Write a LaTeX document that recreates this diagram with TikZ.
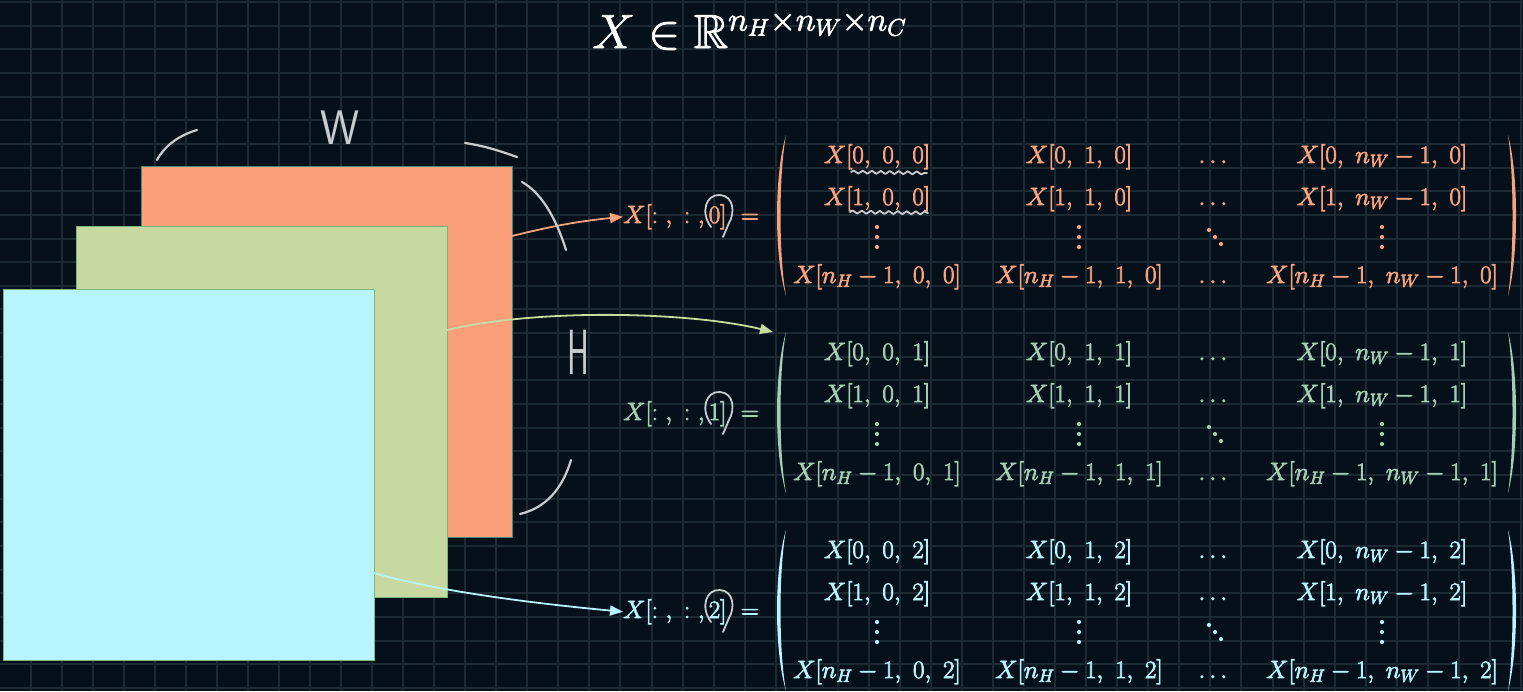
\RequirePackage{fix-cm}
\documentclass[tikz,border=0pt]{standalone}
\usepackage{amsmath,amssymb}
\usepackage{fontspec}
\usetikzlibrary{arrows.meta,decorations.pathmorphing}
\definecolor{bgc}{HTML}{06101A}
\definecolor{gridc}{HTML}{1C2A33}
\definecolor{orfill}{HTML}{FA9F7A}
\definecolor{ortext}{HTML}{F7A27D}
\definecolor{orborder}{HTML}{3D8F6F}
\definecolor{grfill}{HTML}{C8D8A1}
\definecolor{grtext}{HTML}{A5CDB3}
\definecolor{grarrow}{HTML}{C8DCA0}
\definecolor{grborder}{HTML}{7DB47A}
\definecolor{cyfill}{HTML}{B8F4FD}
\definecolor{chalk}{HTML}{C8CCD0}
\newcommand{\thk}{\special{pdf:literal direct 2 Tr 0.7 w}}
\newcommand{\placematrix}[3]{%
  \node[ent] (#3-1-1) at (877,{163+#2}) {$X[0,\ 0,\ #1]$};
  \node[ent] (#3-1-2) at (1079,{163+#2}) {$X[0,\ 1,\ #1]$};
  \node[ent] (#3-1-3) at (1215,{163+#2}) {$\dots$};
  \node[ent] (#3-1-4) at (1382,{163+#2}) {$X[0,\ n_W-1,\ #1]$};
  \node[ent] (#3-2-1) at (877,{205+#2}) {$X[1,\ 0,\ #1]$};
  \node[ent] (#3-2-2) at (1079,{205+#2}) {$X[1,\ 1,\ #1]$};
  \node[ent] (#3-2-3) at (1215,{205+#2}) {$\dots$};
  \node[ent] (#3-2-4) at (1382,{205+#2}) {$X[1,\ n_W-1,\ #1]$};
  \foreach \cx in {877,1079,1382}
    \foreach \cy in {227,237,247}
      \fill (\cx,{\cy+#2}) circle (2.1pt);
  \foreach \cx/\cy in {1209/230,1215/237,1221/244}
    \fill (\cx,{\cy+#2}) circle (2.1pt);
  \node[ent] (#3-4-1) at (877,{283+#2}) {$X[n_H-1,\ 0,\ #1]$};
  \node[ent] (#3-4-2) at (1079,{283+#2}) {$X[n_H-1,\ 1,\ #1]$};
  \node[ent] (#3-4-3) at (1215,{283+#2}) {$\dots$};
  \node[ent] (#3-4-4) at (1382,{283+#2}) {$X[n_H-1,\ n_W-1,\ #1]$};
  \fill (786,{135+#2}) .. controls (774,{175+#2}) and (774,{256+#2}) .. (786,{296+#2})
        .. controls (778.7,{256+#2}) and (778.7,{175+#2}) .. cycle;
  \fill (1508,{135+#2}) .. controls (1518.7,{175+#2}) and (1518.7,{256+#2}) .. (1508,{296+#2})
        .. controls (1514,{256+#2}) and (1514,{175+#2}) .. cycle;
}
\tikzset{
  gridline/.style={draw=gridc, line width=2pt},
  sheet/.style={rectangle, inner sep=0pt, outer sep=0pt, minimum width=371pt, minimum height=371pt, line width=1pt},
  ent/.style={anchor=base, inner sep=0pt, font=\fontsize{25}{30}\selectfont\thk},
  lbl/.style={anchor=base west, inner sep=0pt, font=\fontsize{25}{30}\selectfont\thk},
  arr/.style={line width=1.8pt, -{Triangle[length=13pt,width=10pt]}},
  chalkline/.style={draw=chalk, line width=2.2pt, line cap=round, line join=round},
  wavy/.style={chalkline, line width=1.8pt, decorate, decoration={snake, amplitude=1.5pt, segment length=9pt}},
  chalktext/.style={text=chalk, inner sep=0pt, font=\sffamily\fontsize{44}{50}\selectfont},
}
\begin{document}
\begin{tikzpicture}[x=1pt,y=-1pt]
\fill[bgc] (0,0) rectangle (1523,691);
\useasboundingbox (0,0) rectangle (1523,691);
\foreach \i in {0,...,48} \draw[gridline] ({30.5+31.05*\i},0) -- ++(0,691);
\foreach \j in {0,...,29} \draw[gridline] (0,{2+23.65*\j}) -- ++(1523,0);

% title
\node[anchor=base west, inner sep=0pt, text=white, font=\fontsize{48}{56}\selectfont\thk] (title) at (592,48) {$X\in\mathbb{R}^{n_H\times n_W\times n_C}$};

% sheets
\node[sheet, fill=orfill, draw=orborder] (sq0) at (326.5,351.5) {};
\node[sheet, fill=grfill, draw=grborder] (sq1) at (262,412) {};
\node[sheet, fill=cyfill, draw=grborder] (sq2) at (188.5,474.5) {};

% labels
\node[lbl, text=ortext] (lab0) at (623,223) {$X[{:}\ ,\ {:}\ ,0]\ =$};
\node[lbl, text=grtext] (lab1) at (623,420) {$X[{:}\ ,\ {:}\ ,1]\ =$};
\node[lbl, text=cyfill] (lab2) at (623,618) {$X[{:}\ ,\ {:}\ ,2]\ =$};

% matrices
\begin{scope}[ortext, ent/.append style={text=ortext}]
\placematrix{0}{0}{m0}
\end{scope}
\begin{scope}[grtext, ent/.append style={text=grtext}]
\placematrix{1}{197}{m1}
\end{scope}
\begin{scope}[cyfill, ent/.append style={text=cyfill}]
\placematrix{2}{395}{m2}
\end{scope}

% arrows
\coordinate (a0s) at (512,236);
\coordinate (a1s) at (447,330);
\coordinate (a2s) at (374,573);
\coordinate (a1e) at (773,332);
\draw[arr, draw=ortext] (a0s) to[bend left=4] (lab0.west);
\draw[arr, draw=grarrow] (a1s) .. controls (540,308) and (690,312) .. (a1e);
\draw[arr, draw=cyfill] (a2s) .. controls (440,592) and (540,604) .. (lab2.west);

% chalk annotations
\draw[chalkline] (157,160) .. controls (165,145) and (180,135) .. (197,130);
\draw[chalkline] (465,143) .. controls (485,146) and (500,151) .. (517,157);
\draw[chalkline] (522,182) .. controls (540,192) and (555,215) .. (566,250);
\draw[chalkline] (520,514) .. controls (545,508) and (562,490) .. (571,460);
\node[chalktext, yscale=1.1] (wmark) at (340,128) {W};
\node[chalktext, xscale=0.75, yscale=1.45] (hmark) at (578,352) {H};
\foreach \dy in {0,197,395}
  \draw[chalkline, line width=1.8pt] (711,{227+\dy}) .. controls (700,{212+\dy}) and (706,{194+\dy}) .. (720,{195+\dy})
     .. controls (734,{196+\dy}) and (735,{213+\dy}) .. (729,{223+\dy}) -- (723,{237+\dy});
\draw[wavy] (851,172) -- (927,173);
\draw[wavy] (850,212) -- (928,213);
\end{tikzpicture}
\end{document}
